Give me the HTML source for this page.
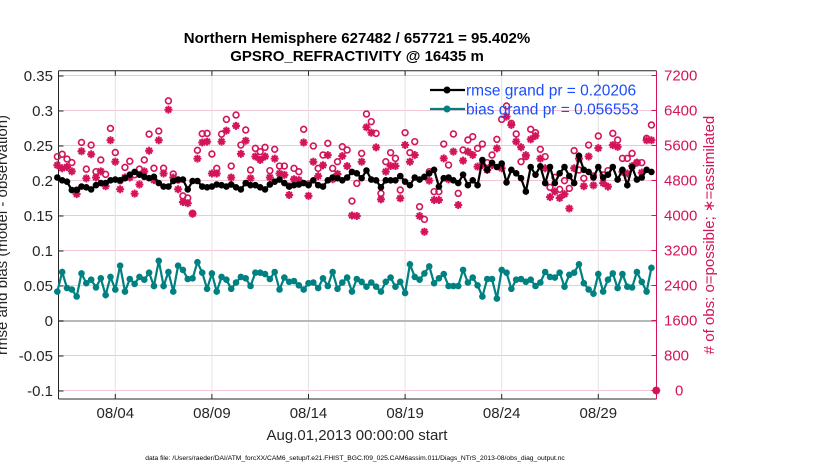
<!DOCTYPE html>
<html><head><meta charset="utf-8"><style>
html,body{margin:0;padding:0;background:#fff;}
svg{display:block;font-family:"Liberation Sans",Arial,sans-serif;}
</style></head><body>
<svg id="chart" width="830" height="470" viewBox="0 0 830 470" xmlns="http://www.w3.org/2000/svg"></svg>
<script>
const rmse=[0.205,0.201,0.199,0.187,0.187,0.192,0.191,0.188,0.194,0.197,0.197,0.201,0.202,0.201,0.204,0.209,0.213,0.209,0.206,0.204,0.206,0.197,0.192,0.192,0.200,0.202,0.202,0.188,0.200,0.200,0.192,
0.191,0.192,0.195,0.194,0.192,0.195,0.191,0.188,0.197,0.194,0.194,0.191,0.188,0.195,0.199,0.202,0.197,0.192,0.194,0.195,0.197,0.194,0.201,0.194,0.192,0.201,0.205,0.204,0.201,0.205,0.213,
0.211,0.204,0.215,0.202,0.201,0.191,0.201,0.201,0.201,0.207,0.199,0.194,0.205,0.202,0.206,0.211,0.216,0.192,0.204,0.205,0.201,0.197,0.209,0.194,0.201,0.194,0.230,0.216,0.226,0.220,0.225,
0.198,0.216,0.211,0.204,0.185,0.220,0.209,0.221,0.197,0.220,0.197,0.211,0.220,0.207,0.197,0.236,0.216,0.213,0.205,0.220,0.205,0.209,0.220,0.202,0.216,0.194,0.220,0.202,0.205,0.216,0.213];
const bias=[0.042,0.070,0.047,0.045,0.035,0.068,0.054,0.059,0.048,0.061,0.037,0.063,0.045,0.079,0.042,0.060,0.053,0.063,0.059,0.069,0.050,0.086,0.050,0.070,0.042,0.079,0.073,0.060,0.061,0.084,0.069,
0.046,0.068,0.042,0.063,0.059,0.046,0.055,0.063,0.061,0.050,0.069,0.069,0.067,0.060,0.070,0.045,0.062,0.056,0.057,0.051,0.045,0.054,0.055,0.047,0.061,0.050,0.070,0.046,0.055,0.062,0.042,
0.060,0.056,0.049,0.055,0.049,0.042,0.056,0.062,0.049,0.056,0.040,0.081,0.063,0.059,0.068,0.078,0.054,0.061,0.067,0.050,0.050,0.050,0.073,0.055,0.062,0.051,0.035,0.060,0.060,0.032,0.073,
0.069,0.046,0.059,0.060,0.056,0.059,0.050,0.055,0.070,0.063,0.062,0.069,0.049,0.066,0.069,0.081,0.054,0.045,0.039,0.067,0.042,0.059,0.068,0.047,0.067,0.049,0.048,0.070,0.056,0.042,0.076];
const possible=[5345,5400,5290,5210,4580,5670,5060,5610,5000,5270,4940,5990,5440,4795,5100,5240,4930,5060,5270,5860,5080,5930,5080,6620,4950,4810,4450,4400,4050,5490,5870,
5878,5406,5078,5860,6198,5131,6297,5611,5954,5040,5535,5459,5558,5025,5513,5131,5131,4674,5078,5002,5970,4720,5589,5078,5383,5650,5078,5230,5573,5497,4331,
4735,5421,6320,6145,5878,4506,5230,5436,5306,4583,5893,5436,5688,4202,3912,5002,4545,4545,5634,5154,5863,4506,5497,5726,5802,5535,5634,5208,5383,5741,6198,
6503,6107,5863,5230,5345,5970,5893,5513,5345,4644,4873,4598,4796,4621,5482,5040,4850,5611,4903,5817,4926,5025,5878,5726,5306,5306,5421,5208,5208,5764,6069,0];
const assimilated=[5150,5080,5110,5010,4490,5470,4850,5400,4870,5010,4670,5720,5230,4600,4870,4870,4500,4710,5010,5480,4810,5720,4960,6420,4870,4600,4310,4280,4040,5300,5670,
5690,4960,4960,5690,5940,4870,6050,5410,5710,4850,5350,5270,5350,4870,5300,4960,4930,4470,4830,4810,5670,4450,5230,4900,5150,5380,4830,4950,5360,5130,4000,
3989,5230,6016,5893,5558,4370,5002,5131,5131,4393,5611,5230,5383,3989,3630,4796,4354,4354,5306,4827,5459,4240,5253,5459,5383,5116,5154,5040,5154,5535,5080,
6260,6070,5690,5560,5380,5740,5820,5300,5080,4420,4550,4400,4490,4160,5080,5300,4670,5350,4690,5540,4740,4660,5610,5570,5000,4960,5130,5210,4980,5720,5720,0];
const xTickDays=[3,8,13,18,23,28];
const xTickLabels=["08/04","08/09","08/14","08/19","08/24","08/29"];
const yLeftTicks=[-0.1,-0.05,0,0.05,0.1,0.15,0.2,0.25,0.3,0.35];
const yLeftLabels=["-0.1","-0.05","0","0.05","0.1","0.15","0.2","0.25","0.3","0.35"];
const yRightTicks=[0,800,1600,2400,3200,4000,4800,5600,6400,7200];

const L=58.5,R=656.5,T=70.7,B=399;
const X=d=>115.3+(d-3)*19.32;
const YL=v=>321-v*700;
const YR=n=>390.5-n*35/800;
const dayOf=i=>i*0.25;
const CR="#d4145a",TEAL="#008080";
const NS="http://www.w3.org/2000/svg";
const svg=document.getElementById('chart');
function mk(tag,attrs,parent){const e=document.createElementNS(NS,tag);for(const k in attrs)e.setAttribute(k,attrs[k]);(parent||svg).appendChild(e);return e;}

const grid=mk('g',{});


yRightTicks.forEach(n=>{mk('line',{x1:L,x2:R,y1:YR(n),y2:YR(n),stroke:'#f3c6d6','stroke-width':1},grid);});
xTickDays.forEach(d=>{mk('line',{x1:X(d),x2:X(d),y1:T,y2:B,stroke:'#e2e2e2','stroke-width':1},grid);});
const zl=mk('line',{x1:L,x2:R,y1:YL(0),y2:YL(0),stroke:'#b8b8b8','stroke-width':2});



mk('line',{x1:L,x2:R,y1:T,y2:T,stroke:'#262626','stroke-width':1});
mk('line',{x1:L,x2:R,y1:B,y2:B,stroke:'#262626','stroke-width':1});
mk('line',{x1:L,x2:L,y1:T,y2:B,stroke:'#262626','stroke-width':1});
mk('line',{x1:R,x2:R,y1:T,y2:B,stroke:CR,'stroke-width':1});

xTickDays.forEach((d,i)=>{
  mk('line',{x1:X(d),x2:X(d),y1:B,y2:B-5,stroke:'#262626'});
  mk('line',{x1:X(d),x2:X(d),y1:T,y2:T+5,stroke:'#262626'});
  const t=mk('text',{x:X(d),y:418,'text-anchor':'middle','font-size':15,fill:'#262626'});
  t.textContent=xTickLabels[i];
  
  
});
yLeftTicks.forEach((v,i)=>{
  mk('line',{x1:L,x2:L+5,y1:YL(v),y2:YL(v),stroke:'#262626'});
  const t=mk('text',{x:53,y:YL(v)+5,'text-anchor':'end','font-size':15,fill:'#262626'});
  t.textContent=yLeftLabels[i];
  
  
});
yRightTicks.forEach(n=>{
  mk('line',{x1:R,x2:R-5,y1:YR(n),y2:YR(n),stroke:CR});
  const t=mk('text',{x:n===0?675:664,y:YR(n)+5,'text-anchor':'start','font-size':15,fill:CR});
  t.textContent=String(n);
  
  
});

const gObs=mk('g',{});


possible.forEach((n,i)=>{
  const d=i<124?dayOf(i):31;
  const c=mk('circle',{cx:X(d),cy:YR(n),r:2.9,fill:'none',stroke:CR,'stroke-width':1.6},gObs);
  
  
});
assimilated.forEach((n,i)=>{
  const d=i<124?dayOf(i):31;
  const x=X(d),y=YR(n),s=4;
  const p=mk('path',{d:`M${x-s},${y}H${x+s}M${x},${y-s}V${y+s}M${x-s*0.7},${y-s*0.7}L${x+s*0.7},${y+s*0.7}M${x-s*0.7},${y+s*0.7}L${x+s*0.7},${y-s*0.7}`,stroke:CR,'stroke-width':2,fill:'none'},gObs);
  
  
});

function series(arr,color,name){
  const g=mk('g',{});
  
  
  const pts=arr.map((v,i)=>X(dayOf(i)).toFixed(1)+','+YL(v).toFixed(1)).join(' ');
  mk('polyline',{points:pts,fill:'none',stroke:color,'stroke-width':2.2},g);
  arr.forEach((v,i)=>{
    const c=mk('circle',{cx:X(dayOf(i)),cy:YL(v),r:3.3,fill:color},g);
    
    
  });
}
series(rmse,'#000','rmse-series');
series(bias,TEAL,'bias-series');

const lg=mk('g',{});


[[90,'#000','rmse grand pr = 0.20206'],[109,TEAL,'bias grand pr = 0.056553']].forEach(([y,c,txt])=>{
  mk('line',{x1:430,x2:465,y1:y,y2:y,stroke:c,'stroke-width':2.2},lg);
  mk('circle',{cx:447,cy:y,r:3.5,fill:c},lg);
  const t=mk('text',{x:466,y:y+5.5,'font-size':15.5,fill:'#1a4dff'},lg);
  t.textContent=txt;
  
  
});
</script>
<svg style="position:absolute;left:0;top:0" width="830" height="470">
<text x="357" y="43" text-anchor="middle" font-size="15" font-weight="bold" fill="#000">Northern Hemisphere 627482 / 657721 = 95.402%</text>
<text x="357" y="61" text-anchor="middle" font-size="15" font-weight="bold" fill="#000">GPSRO_REFRACTIVITY @ 16435 m</text>
<text transform="translate(7,235) rotate(-90)" text-anchor="middle" font-size="15" fill="#262626">rmse and bias (model - observation)</text>
<text transform="translate(714,235) rotate(-90)" text-anchor="middle" font-size="15" fill="#d4145a"># of obs: o=possible; ∗=assimilated</text>
<text x="357" y="440" text-anchor="middle" font-size="15" fill="#262626">Aug.01,2013 00:00:00 start</text>
<text x="355" y="460" text-anchor="middle" font-size="6.7" fill="#000">data file: /Users/raeder/DAI/ATM_forcXX/CAM6_setup/f.e21.FHIST_BGC.f09_025.CAM6assim.011/Diags_NTrS_2013-08/obs_diag_output.nc</text>
</svg>
</body></html>
